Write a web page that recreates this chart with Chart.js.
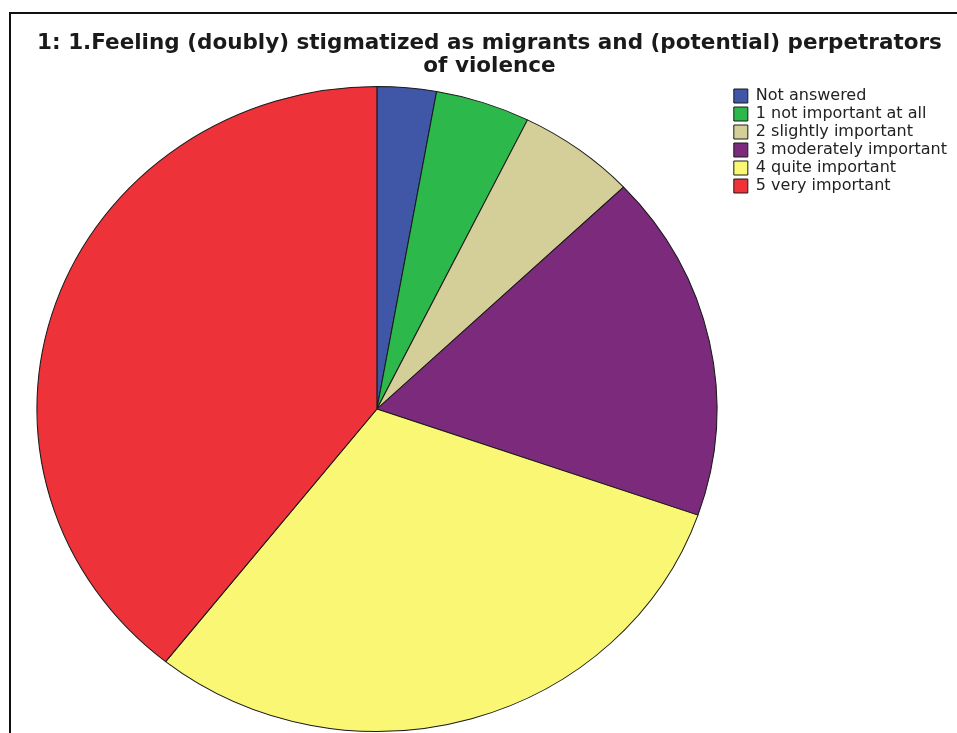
<!DOCTYPE html>
<html>
<head>
<meta charset="utf-8">
<script src="https://cdn.jsdelivr.net/npm/chart.js@4"></script>
<style>
    html, body { margin: 0; padding: 0; background: #fff; }
    #wrap { position: relative; width: 957px; height: 733px; overflow: hidden; }
    #frame {
        position: absolute; left: 9px; top: 12px; right: -5px; bottom: -5px;
        border-top: 2px solid #111; border-left: 2px solid #111;
    }
    #pie { position: absolute; left: 0; top: 0; }
</style>
</head>
<body>
<div id="wrap">
    <div id="frame"></div>
    <canvas id="pie" width="957" height="733"></canvas>
</div>
<script>
// Pie: Feeling (doubly) stigmatized - answers count

const categories = [
    'Not answered',
    '1 not important at all',
    '2 slightly important',
    '3 moderately important',
    '4 quite important',
    '5 very important'
];
const counts = [5, 8, 10, 31, 54, 70];
const sliceColors = ['#3f57a6', '#2db84b', '#d4cf98', '#7b2a7c', '#f9f774', '#ee3239'];
const titleLines = [
    '1: 1.Feeling (doubly) stigmatized as migrants and (potential) perpetrators',
    'of violence'
];

// SPSS draws the pie a bit wider than tall
const ELLIPSE_RATIO = 340 / 322.5;

const ellipsePlugin = {
    id: 'ellipse',
    beforeDatasetsDraw(chart) {
        const arc = chart.getDatasetMeta(0).data[0];
        if (!arc) return;
        const ctx = chart.ctx;
        ctx.save();
        ctx.translate(arc.x, arc.y);
        ctx.scale(ELLIPSE_RATIO, 1);
        ctx.translate(-arc.x, -arc.y);
    },
    afterDatasetsDraw(chart) {
        chart.ctx.restore();
    }
};

const pieChart = new Chart(document.getElementById('pie'), {
    type: 'pie',
    data: {
        labels: categories,
        datasets: [{
            data: counts,
            backgroundColor: sliceColors,
            borderColor: '#1a1a1a',
            borderWidth: 1
        }]
    },
    options: {
        responsive: false,
        animation: false,
        layout: {
            padding: { left: 22, right: 0, top: 0, bottom: 1 }
        },
        plugins: {
            title: {
                display: true,
                text: titleLines,
                color: '#1a1a1a',
                font: { family: 'DejaVu Sans', size: 21.5, weight: 'bold', lineHeight: 1.07 },
                padding: { top: 32, bottom: 8 }
            },
            legend: {
                display: true,
                position: 'right',
                align: 'start',
                fullSize: false,
                labels: {
                    color: '#222',
                    font: { family: 'DejaVu Sans', size: 16 },
                    boxWidth: 14,
                    boxHeight: 14,
                    padding: 2
                }
            },
            tooltip: { enabled: false }
        }
    },
    plugins: [ellipsePlugin]
});
</script>
</body>
</html>
